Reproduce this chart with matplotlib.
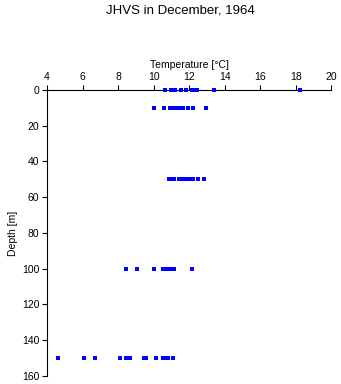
import matplotlib
matplotlib.use("Agg")
import matplotlib.pyplot as plt

# temperature readings (deg C) at each sampled depth (m)
temp_0 = [10.65, 11.0, 11.2, 11.55, 11.83, 12.15, 12.3, 12.45, 13.4, 18.25]
temp_10 = [10.03, 10.56, 10.95, 11.1, 11.25, 11.4, 11.55, 11.65, 11.95, 12.2, 12.96]
temp_50 = [10.85, 11.0, 11.15, 11.45, 11.65, 11.9, 12.05, 12.2, 12.5, 12.85]
temp_100 = [8.43, 9.05, 10.05, 10.55, 10.78, 10.9, 11.05, 11.15, 12.15]
temp_150 = [4.64, 6.1, 6.7, 8.1, 8.45, 8.65, 9.45, 9.6, 10.14, 10.55, 10.7, 10.8, 11.08]

depths = [0, 10, 50, 100, 150]
temps = [temp_0, temp_10, temp_50, temp_100, temp_150]

xticks = [4, 6, 8, 10, 12, 14, 16, 18, 20]
yticks = [0, 20, 40, 60, 80, 100, 120, 140, 160]

plt.rcParams['font.family'] = ['Liberation Sans', 'DejaVu Sans']

fig = plt.figure(figsize=(3.41, 3.84), dpi=100)
ax = fig.add_axes([0.138, 0.021, 0.833, 0.745])

for d, t in zip(depths, temps):
    ax.plot(t, [d] * len(t), linestyle='none', marker='s', markersize=2.3,
            markeredgewidth=0, color='#0000ff', clip_on=False, zorder=3)

ax.set_xlim(4, 20)
ax.set_ylim(160, 0)
ax.set_xticks(xticks)
ax.set_yticks(yticks)
ax.xaxis.tick_top()
ax.xaxis.set_label_position('top')
ax.spines['right'].set_visible(False)
ax.spines['bottom'].set_visible(False)
ax.tick_params(direction='out', length=3.5, width=0.8, labelsize=7.5, pad=2)
ax.set_xlabel('Temperature [°C]', fontsize=7.5, labelpad=3)
ax.set_ylabel('Depth [m]', fontsize=7.5, labelpad=3)

fig.text(0.53, 0.973, 'JHVS in December, 1964', ha='center', va='center', fontsize=9.5)

fig.savefig('out.png', dpi=100)
